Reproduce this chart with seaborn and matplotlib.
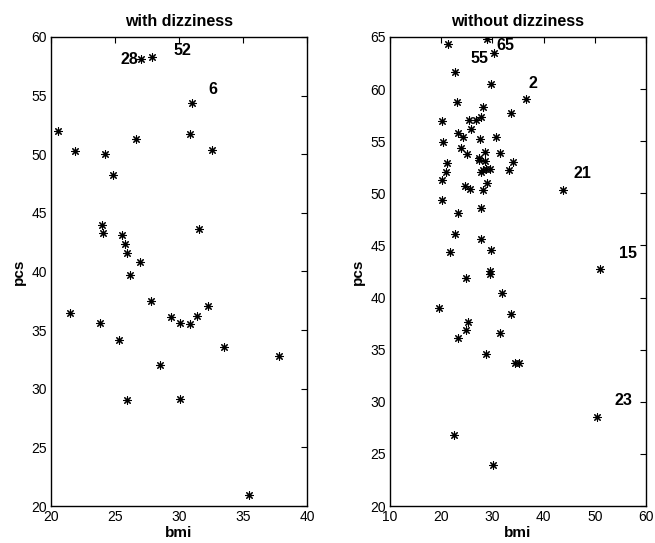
import matplotlib
matplotlib.use("Agg")
import matplotlib.pyplot as plt
import seaborn as sns
import pandas as pd

# with dizziness
bmi_dizzy = [27.0, 27.9, 31.04, 20.55, 21.85, 24.25, 24.87, 26.64, 30.83, 32.6,
             23.96, 24.09, 25.55, 25.8, 25.94, 26.98, 26.15, 31.6, 21.46, 23.8,
             25.29, 27.84, 29.35, 30.08, 30.83, 31.43, 32.24, 33.5, 37.84,
             28.5, 25.96, 30.1, 35.47]
pcs_dizzy = [58.1, 58.3, 54.4, 52.0, 50.3, 50.0, 48.2, 51.3, 51.7, 50.4,
             44.0, 43.3, 43.1, 42.35, 41.6, 40.8, 39.7, 43.6, 36.5, 35.6,
             34.2, 37.5, 36.1, 35.6, 35.5, 36.2, 37.1, 33.6, 32.8,
             32.0, 29.0, 29.1, 20.9]
labels_dizzy = ["28", "52", "6"]
label_x_dizzy = [25.45, 29.55, 32.29]
label_y_dizzy = [58.1, 58.83, 55.48]

# without dizziness
bmi_nodizzy = [21.25, 29.0, 30.28, 22.68, 29.64, 36.66, 23.14, 28.08, 20.22, 25.41,
               26.77, 27.69, 25.87, 33.54, 20.41, 23.34, 24.24, 27.55, 30.61, 23.79,
               25.02, 28.6, 31.39, 27.36, 27.43, 28.47, 34.12, 21.06, 20.93, 27.75,
               28.08, 28.73, 29.5, 33.28, 20.08, 29.0, 24.7, 25.54, 28.21, 43.74,
               20.22, 23.34, 27.82, 22.62, 27.75, 21.7, 29.77, 29.58, 29.58, 24.82,
               50.95, 31.85, 19.56, 33.73, 25.29, 24.82, 31.53, 23.34,
               28.72, 34.32, 35.29, 22.48, 30.09, 50.37]
pcs_nodizzy = [64.36, 64.8, 63.46, 61.67, 60.45, 59.07, 58.76, 58.24, 56.96, 57.06,
               56.99, 57.28, 56.16, 57.73, 54.94, 55.78, 55.45, 55.23, 55.36, 54.37,
               53.82, 53.95, 53.86, 53.41, 53.21, 53.12, 52.96, 52.93, 52.03, 52.03,
               52.22, 52.32, 52.32, 52.25, 51.32, 51.03, 50.75, 50.43, 50.3, 50.33,
               49.4, 48.12, 48.63, 46.13, 45.6, 44.38, 44.6, 42.55, 42.23, 41.91,
               42.71, 40.41, 38.99, 38.45, 37.68, 36.91, 36.59, 36.08,
               34.58, 33.74, 33.74, 26.86, 23.98, 28.56]
labels_nodizzy = ["65", "55", "2", "21", "15", "23"]
label_x_nodizzy = [30.81, 25.74, 37.1, 45.9, 54.66, 53.82]
label_y_nodizzy = [64.19, 62.98, 60.58, 51.94, 44.25, 30.1]

sns.set_style("white")
plt.rcParams['font.family'] = ['Liberation Sans', 'DejaVu Sans']
plt.rcParams['text.color'] = 'black'
plt.rcParams['axes.labelcolor'] = 'black'
plt.rcParams['axes.titlecolor'] = 'black'

fig = plt.figure(figsize=(6.55, 5.43), dpi=100)
ax1 = fig.add_axes([51/655, 37/543, 256/655, 469/543])
ax2 = fig.add_axes([390/655, 37/543, 256/655, 469/543])

asterisk = (8, 2, 0)

def panel(ax, xs, ys, lx, ly, lt, title, xlim, ylim, xticks, yticks):
    df = pd.DataFrame({"bmi": xs, "pcs": ys})
    sns.scatterplot(data=df, x="bmi", y="pcs", ax=ax, marker=asterisk,
                    color="black", edgecolor="black", s=30, linewidth=0.8)
    for x, y, t in zip(lx, ly, lt):
        ax.text(x, y, t, fontsize=11.5, fontweight="bold", ha="left", va="center",
                color="black")
    ax.set_xlim(*xlim)
    ax.set_ylim(*ylim)
    ax.set_xticks(xticks)
    ax.set_yticks(yticks)
    ax.set_title(title, fontsize=11.5, fontweight="bold", pad=8, color="black")
    ax.set_xlabel("bmi", fontsize=11, fontweight="bold", labelpad=1, color="black")
    ax.set_ylabel("pcs", fontsize=11, fontweight="bold", labelpad=4, color="black")
    ax.tick_params(direction="in", length=4, width=0.8, top=True, right=True,
                   labelsize=10, colors="black", pad=3)
    for s in ax.spines.values():
        s.set_visible(True)
        s.set_color("black")
        s.set_linewidth(1.0)

panel(ax1, bmi_dizzy, pcs_dizzy, label_x_dizzy, label_y_dizzy, labels_dizzy,
      "with dizziness", (20, 40), (20, 60), [20, 25, 30, 35, 40],
      list(range(20, 61, 5)))
panel(ax2, bmi_nodizzy, pcs_nodizzy, label_x_nodizzy, label_y_nodizzy, labels_nodizzy,
      "without dizziness", (10, 60), (20, 65), [10, 20, 30, 40, 50, 60],
      list(range(20, 66, 5)))

fig.savefig("out.png", dpi=100)
